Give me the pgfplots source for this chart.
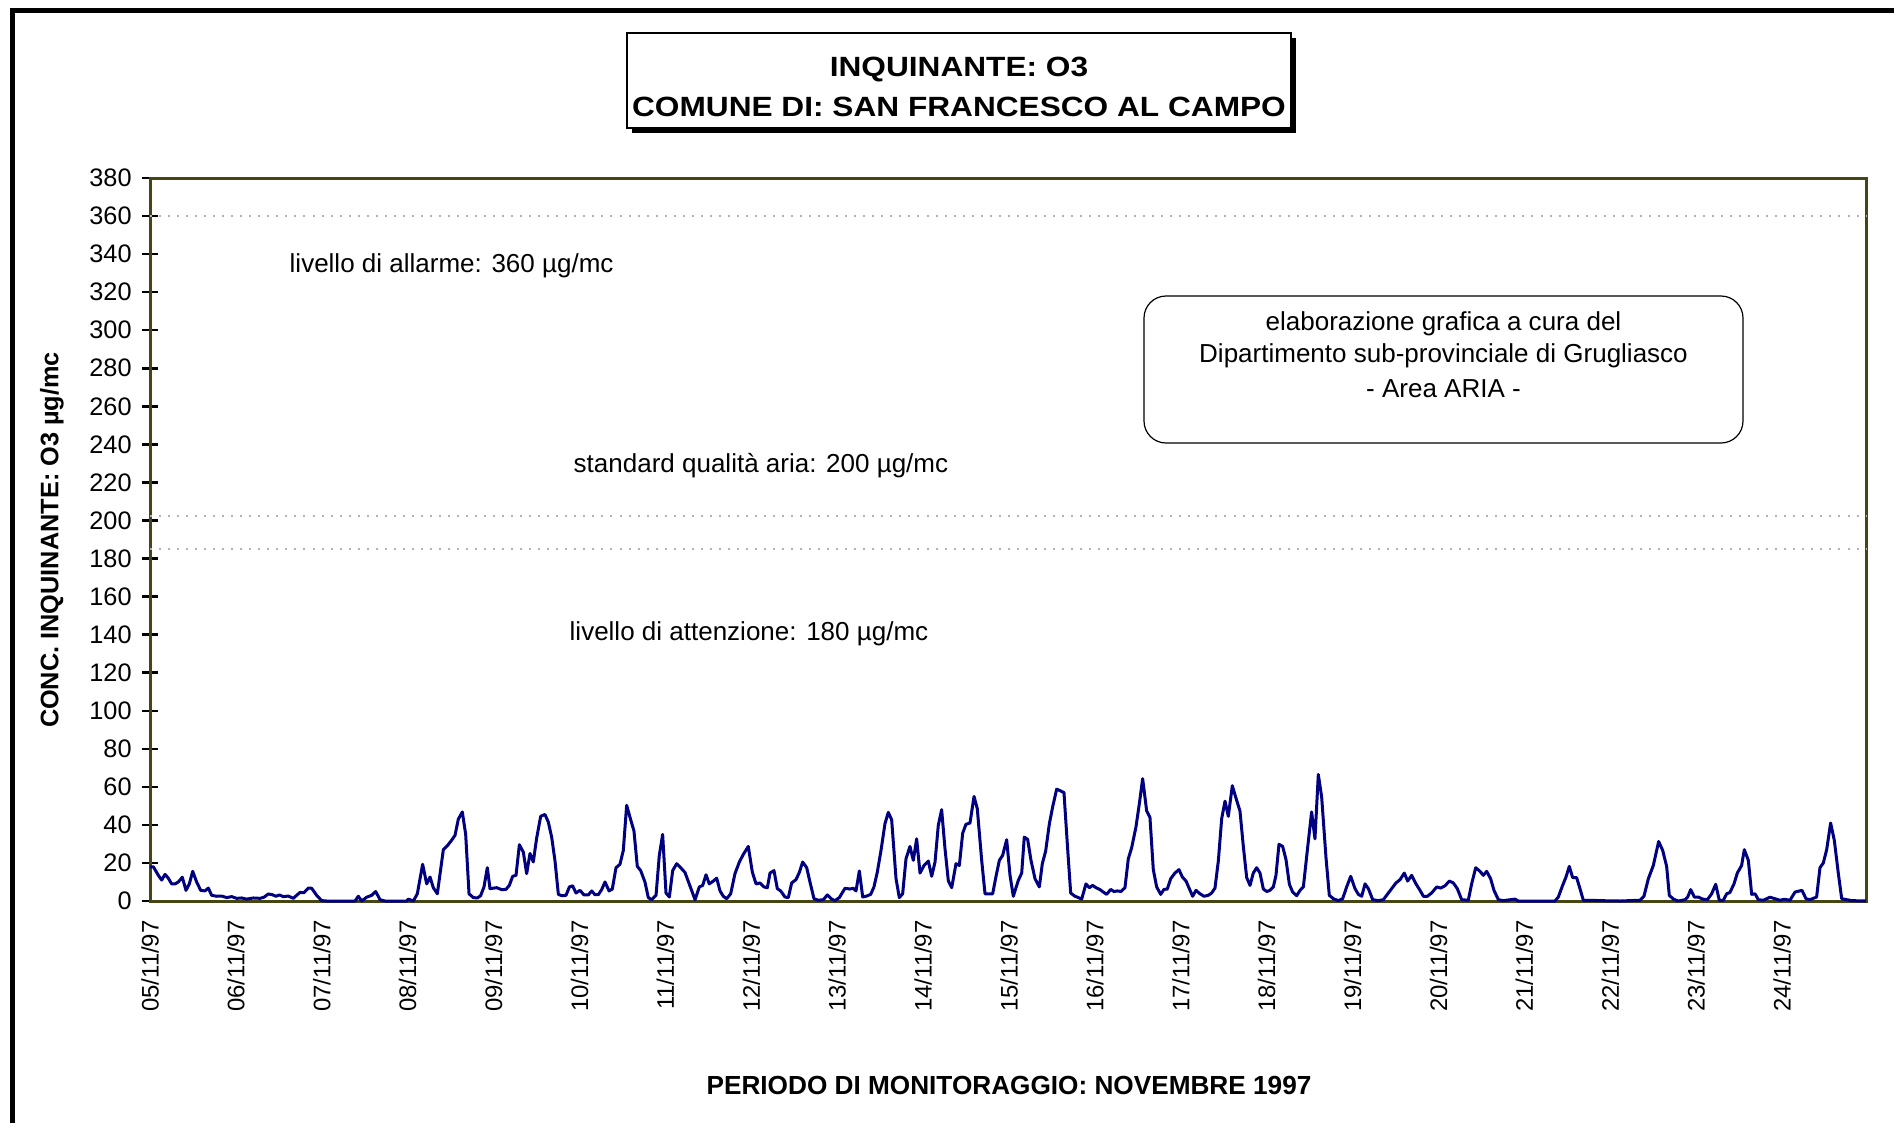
\documentclass[border=0pt]{standalone}
\usepackage{pgfplots}
\pgfplotsset{compat=1.18}
\usepackage{fontspec}
\setmainfont{Liberation Sans}
\definecolor{frameol}{RGB}{70,70,20}
\definecolor{navyline}{RGB}{0,0,128}
\begin{document}
\begin{tikzpicture}[x=1mm,y=1mm]
\useasboundingbox (0,0) rectangle (189.4,112.2);
% outer chart frame (top and left visible)
\draw[line width=0.5mm] (1.2,-1) -- (1.2,111.2) -- (190,111.2);
\begin{axis}[
  at={(15mm,22.1mm)}, anchor=south west,
  width=171.6mm, height=72.3mm, scale only axis,
  xmin=0, xmax=19.977, ymin=0, ymax=380,
  xtick={0,...,19},
  xticklabels={05/11/97,06/11/97,07/11/97,08/11/97,09/11/97,10/11/97,11/11/97,12/11/97,13/11/97,14/11/97,15/11/97,16/11/97,17/11/97,18/11/97,19/11/97,20/11/97,21/11/97,22/11/97,23/11/97,24/11/97},
  ytick={0,20,...,380},
  ytick pos=left, xtick pos=bottom,
  axis line style={frameol, line width=0.3mm},
  major x tick style={draw=none},
  major y tick style={black, line width=0.25mm},
  tick align=center, major tick length=1.6mm,
  /pgf/number format/assume math mode=true,
  yticklabel style={font=\fontsize{7.2}{8}\selectfont, anchor=east, xshift=0.2mm},
  xticklabel style={font=\fontsize{6.8}{8}\selectfont, rotate=90, anchor=east, xshift=0.1mm},
  clip=false,
]
\addplot[gray!60, dotted, line width=0.2mm] coordinates {(0,360) (19.977,360)};
\addplot[gray!60, dotted, line width=0.2mm] coordinates {(0,202.5) (19.977,202.5)};
\addplot[gray!60, dotted, line width=0.2mm] coordinates {(0,185) (19.977,185)};
\addplot[navyline, line width=0.3mm, line join=round] coordinates {
(0,18) (0.039,18) (0.097,13.5) (0.136,11) (0.175,14) (0.213,12) (0.252,9) (0.291,9) (0.330,10) (0.376,12.5) (0.419,5.6) (0.458,9) (0.497,15.6) (0.543,10) (0.590,5.6) (0.640,5.3) (0.679,6.8) (0.718,3) (0.776,2.5) (0.834,2.6) (0.893,1.8) (0.951,2.3) (1.009,1.4) (1.067,1.6) (1.125,1) (1.203,1.6) (1.281,1.4) (1.327,2) (1.378,3.7) (1.424,3.3) (1.467,2.5) (1.506,3.2) (1.552,2.3) (1.610,2.6) (1.669,1.4) (1.707,3) (1.746,4.5) (1.793,4.4) (1.843,6.8) (1.882,6.7) (1.940,3) (1.998,0.2) (2.057,0) (2.387,0) (2.425,2.5) (2.464,0) (2.522,2) (2.581,3) (2.627,5) (2.678,0.7) (2.736,0) (2.988,0) (3.007,1) (3.066,0) (3.112,3.8) (3.174,19.3) (3.221,9) (3.260,12.6)
(3.298,7) (3.345,3.8) (3.415,27) (3.461,29) (3.512,32) (3.551,34.5) (3.589,43) (3.636,46.8) (3.675,35) (3.714,3.8) (3.764,1.8) (3.811,1.6) (3.849,2.8) (3.888,7.4) (3.927,17.5) (3.958,6.5) (4.036,7) (4.094,6) (4.144,6.1) (4.183,8.2) (4.222,13) (4.261,13.5) (4.300,29.6) (4.346,25.7) (4.385,14.4) (4.424,25) (4.462,20.5) (4.501,33) (4.548,44.5) (4.598,45.5) (4.637,41.5) (4.676,33.6) (4.715,21) (4.754,3.5) (4.792,2.8) (4.843,3) (4.882,7.4) (4.920,8) (4.959,4.2) (5.006,5.6) (5.052,3.2) (5.103,3.2) (5.142,5.3) (5.180,3.3) (5.219,3.3) (5.258,6) (5.297,10) (5.344,5.3) (5.382,6.3) (5.425,17.5) (5.471,19.3) (5.510,26.6) (5.549,50.3) (5.588,44) (5.634,36.8) (5.673,18.2) (5.712,16) (5.762,10) (5.801,1.8) (5.840,0.7) (5.891,3) (5.929,24) (5.968,35) (6.007,4.2) (6.046,2.1) (6.085,16) (6.131,19.6) (6.178,17.5) (6.228,15) (6.279,8.8) (6.345,0.7) (6.395,7.4) (6.434,8.2) (6.473,13.8) (6.511,9) (6.558,10.5) (6.597,12) (6.636,5.3)
(6.674,2.5) (6.713,1.2) (6.760,3.8) (6.810,14.4) (6.861,20.5) (6.907,24.5) (6.965,28.7) (7.012,15.2) (7.055,9) (7.101,9.5) (7.148,7.4) (7.187,7) (7.218,14.7) (7.264,16) (7.303,6.5) (7.342,5.3) (7.392,2.1) (7.431,1.8) (7.470,9.5) (7.520,11.2) (7.559,15) (7.598,20.5) (7.645,17.5) (7.683,10) (7.730,1.2) (7.780,0.4) (7.839,0.7) (7.885,3.2) (7.936,1) (7.974,0.2) (8.025,1.8) (8.091,6.7) (8.149,6.3) (8.188,6.7) (8.219,5.3) (8.258,15.8) (8.297,2.1) (8.343,2.6) (8.390,3.5) (8.428,7.4) (8.467,15.2) (8.510,26.6) (8.556,40.6) (8.595,46.6) (8.634,42.7) (8.685,11.7) (8.723,1.8) (8.762,3.8) (8.801,22.2) (8.847,28.7) (8.886,21.4) (8.925,32.7) (8.964,14.7) (9.011,18.7) (9.061,21) (9.100,13) (9.139,20.5) (9.177,39.8) (9.216,48) (9.255,27.5) (9.294,10.5) (9.333,7) (9.383,19.6) (9.422,18.7) (9.461,35.7) (9.499,40.3) (9.546,41) (9.593,55) (9.631,48.5) (9.682,21.4) (9.721,3.8) (9.771,3.8) (9.810,3.8) (9.849,13) (9.888,21.4) (9.926,24) (9.973,32.2) (10.012,13.5) (10.050,2.5)
(10.109,10.9) (10.148,14.7) (10.178,33.6) (10.217,32.4) (10.256,21.4) (10.303,11.7) (10.353,7.4) (10.388,19.6) (10.427,26.3) (10.470,40.6) (10.508,49.4) (10.555,58.8) (10.594,58) (10.640,57) (10.679,30) (10.718,4.2) (10.768,2.5) (10.807,1.8) (10.846,1) (10.896,9) (10.935,7) (10.974,8.2) (11.013,7) (11.059,6) (11.098,4.7) (11.137,3.5) (11.184,6.1) (11.222,5) (11.261,5.3) (11.304,5) (11.350,7) (11.389,22.2) (11.428,28) (11.478,38.9) (11.517,51) (11.556,64.3) (11.603,47.3) (11.641,44) (11.680,16.5) (11.719,7.4) (11.766,3.5) (11.804,6.1) (11.843,6.3) (11.882,11.7) (11.932,14.7) (11.979,16.5) (12.018,12.6) (12.061,10.5) (12.099,6.5) (12.138,2.5) (12.177,5.6) (12.223,3.8) (12.270,2.5) (12.320,3) (12.359,4.2) (12.398,6.8) (12.437,21) (12.476,43.3) (12.515,52.5) (12.553,44.5) (12.600,60.6) (12.639,54.6) (12.689,47.3) (12.728,28.7) (12.767,12.3) (12.806,8.2) (12.844,14.7) (12.883,17.5) (12.922,14.7) (12.961,6.3) (13.000,5) (13.038,5.6) (13.077,7.4) (13.108,13.5) (13.143,29.8) (13.186,28.7) (13.225,21.7) (13.264,8.8) (13.302,4.7) (13.349,2.8) (13.388,5.6)
(13.427,7.4) (13.473,26.6) (13.523,46.8) (13.562,32.7) (13.601,66.5) (13.640,54.6) (13.690,23) (13.729,3) (13.776,1.2) (13.834,0.2) (13.884,1.2) (13.931,7.4) (13.978,13) (14.028,6.5) (14.067,3.5) (14.106,2.5) (14.145,9) (14.184,6.5) (14.234,0.7) (14.300,0.2) (14.358,0.7) (14.404,3.5) (14.455,6.5) (14.505,9.5) (14.552,11.2) (14.602,14.7) (14.641,10.5) (14.688,13.5) (14.738,9) (14.785,5.6) (14.824,2.5) (14.870,2.5) (14.920,4.2) (14.979,7.4) (15.025,6.8) (15.076,8) (15.126,10.5) (15.173,9.5) (15.219,6.5) (15.270,0.7) (15.347,0.4) (15.386,9) (15.433,17.5) (15.483,15.6) (15.522,13.5) (15.561,15.6) (15.607,11.7) (15.646,5.6) (15.697,0.7) (15.755,0.2) (15.891,1) (15.929,0) (16.356,0) (16.395,2.1) (16.445,8.2) (16.484,12.6) (16.523,18.2) (16.562,12.3) (16.608,12.3) (16.647,6.5) (16.686,0.4) (16.802,0.4) (16.861,0.2)
(17.113,0) (17.346,0.4) (17.392,2.5) (17.443,11.7) (17.501,18.7) (17.563,31.3) (17.610,26.6) (17.656,18.2) (17.687,3) (17.734,1) (17.792,0) (17.870,0.7) (17.901,2.1) (17.936,6) (17.978,2.1) (18.025,2.1) (18.075,1) (18.130,0.7) (18.180,3.8) (18.227,8.8) (18.269,0.4) (18.316,0.4) (18.355,3.8) (18.393,4.5) (18.440,9) (18.479,14.7) (18.529,18.7) (18.560,27) (18.607,21.4) (18.646,3.5) (18.685,3.8) (18.723,0.7) (18.782,0.4) (18.859,2) (18.917,1.2) (18.976,0.4) (19.026,0.9) (19.092,0.4) (19.150,4.7) (19.232,5.6) (19.278,1.2) (19.325,0.7) (19.402,2.1) (19.441,17.5) (19.480,20) (19.519,27) (19.565,41) (19.608,31.9) (19.655,14.4) (19.694,1.2) (19.752,0.7) (19.810,0.2) (19.977,0)
};
\end{axis}
% title box with shadow
\fill[black] (63.2,98.9) rectangle (129.6,108.4);
\draw[fill=white, line width=0.12mm] (62.7,99.4) rectangle (129.1,108.9);
\node[font=\bfseries\fontsize{9}{10}\selectfont] at (95.9,105.25) {\scalebox{1}[0.88]{INQUINANTE: O3}};
\node[font=\bfseries\fontsize{9}{10}\selectfont] at (95.9,101.55) {\scalebox{1}[0.88]{COMUNE DI: SAN FRANCESCO AL CAMPO}};
% annotations
\node[anchor=west, font=\fontsize{7.4}{8}\selectfont, inner sep=0] at (28.9,85.6) {livello di allarme: 360 µg/mc};
\node[anchor=west, font=\fontsize{7.4}{8}\selectfont, inner sep=0] at (57.3,65.6) {standard qualità aria: 200 µg/mc};
\node[anchor=west, font=\fontsize{7.4}{8}\selectfont, inner sep=0] at (56.9,48.8) {livello di attenzione: 180 µg/mc};
\draw[rounded corners=2.2mm, line width=0.12mm] (114.4,67.9) rectangle (174.3,82.6);
\node[font=\fontsize{7.4}{8}\selectfont] at (144.35,79.8) {elaborazione grafica a cura del};
\node[font=\fontsize{7.4}{8}\selectfont] at (144.35,76.6) {Dipartimento sub-provinciale di Grugliasco};
\node[font=\fontsize{7.4}{8}\selectfont] at (144.35,73.3) {- Area ARIA -};
% axis labels
\node[rotate=90, font=\bfseries\fontsize{7.2}{8}\selectfont] at (5.2,58.2) {CONC. INQUINANTE: O3 µg/mc};
\node[font=\bfseries\fontsize{7.45}{8}\selectfont] at (100.9,3.7) {PERIODO DI MONITORAGGIO: NOVEMBRE 1997};
\end{tikzpicture}
\end{document}
